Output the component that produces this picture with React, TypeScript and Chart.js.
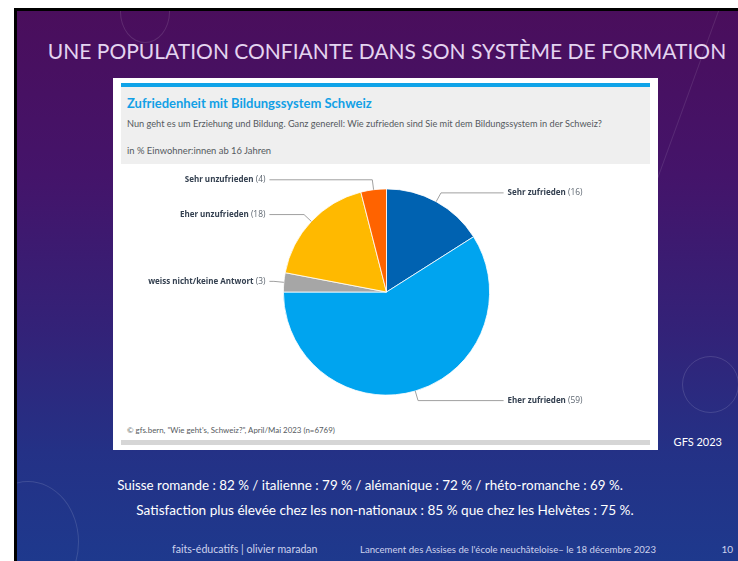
import React, { useEffect, useRef } from "react";
import { Chart, registerables } from "chart.js";

Chart.register(...registerables);

const categories = [
  "Sehr zufrieden",
  "Eher zufrieden",
  "weiss nicht/keine Antwort",
  "Eher unzufrieden",
  "Sehr unzufrieden",
];
const values = [16, 59, 3, 18, 4];
const colors = ["#0062b1", "#00a4ef", "#a6a6a6", "#ffb900", "#ff6300"];

const slideTitle = "UNE POPULATION CONFIANTE DANS SON SYSTÈME DE FORMATION";
const chartTitle = "Zufriedenheit mit Bildungssystem Schweiz";
const chartQuestion =
  "Nun geht es um Erziehung und Bildung. Ganz generell: Wie zufrieden sind Sie mit dem Bildungssystem in der Schweiz?";
const chartUnit = "in % Einwohner:innen ab 16 Jahren";
const chartSource = '© gfs.bern, "Wie geht\'s, Schweiz?", April/Mai 2023 (n=6769)';
const bodyLines = [
  "Suisse romande : 82 % / italienne : 79 % / alémanique : 72 % / rhéto-romanche : 69 %.",
  "Satisfaction plus élevée chez les non-nationaux : 85 % que chez les Helvètes : 75 %.",
];
const footerLeft = "faits-éducatifs | olivier maradan";
const footerMid = "Lancement des Assises de l'école neuchâteloise– le 18 décembre 2023";
const pageNumber = "10";
const sourceNote = "GFS 2023";

const LABEL_FONT = "'Open Sans', Lato, sans-serif";

const leaderPlugin = {
  id: "leaderLabels",
  afterDatasetsDraw(chart: any) {
    const ctx = chart.ctx;
    const meta = chart.getDatasetMeta(0);
    const data = chart.data.datasets[0].data;
    const labels = chart.data.labels;
    ctx.save();
    meta.data.forEach((arc: any, i: number) => {
      const { x, y, startAngle, endAngle, outerRadius } = arc.getProps(
        ["x", "y", "startAngle", "endAngle", "outerRadius"],
        true
      );
      const mid = (startAngle + endAngle) / 2;
      const R = outerRadius;
      const p0x = x + Math.cos(mid) * R;
      const p0y = y + Math.sin(mid) * R;
      const ex = x + Math.cos(mid) * (R + 10);
      const ey = y + Math.sin(mid) * (R + 10);
      const right = Math.cos(mid) >= 0;
      const lx = right ? x + R + 14 : x - R - 14;
      const tx = right ? x + R + 18 : x - R - 18;
      ctx.strokeStyle = "#a0a0a0";
      ctx.lineWidth = 1;
      ctx.beginPath();
      ctx.moveTo(p0x, p0y);
      ctx.lineTo(ex, ey);
      ctx.lineTo(lx, ey);
      ctx.stroke();

      const boldText = String(labels[i]);
      const normText = " (" + data[i] + ")";
      ctx.textBaseline = "middle";
      ctx.font = "bold 8px " + LABEL_FONT;
      const wb = ctx.measureText(boldText).width;
      ctx.font = "8.4px " + LABEL_FONT;
      const wn = ctx.measureText(normText).width;
      const startX = right ? tx : tx - wb - wn;
      ctx.textAlign = "left";
      ctx.font = "bold 8px " + LABEL_FONT;
      ctx.fillStyle = "#344050";
      ctx.fillText(boldText, startX, ey);
      ctx.font = "8.4px " + LABEL_FONT;
      ctx.fillStyle = "#5d6670";
      ctx.fillText(normText, startX + wb, ey);
    });
    ctx.restore();
  },
};

function PieChart() {
  const ref = useRef<HTMLCanvasElement | null>(null);
  useEffect(() => {
    if (!ref.current) return;
    const chart = new Chart(ref.current, {
      type: "pie",
      data: {
        labels: categories,
        datasets: [
          {
            data: values,
            backgroundColor: colors,
            borderColor: "#ffffff",
            borderWidth: 0.8,
          },
        ],
      },
      options: {
        animation: false,
        responsive: false,
        maintainAspectRatio: false,
        layout: { padding: { left: 170, right: 168, top: 23, bottom: 29 } },
        plugins: {
          legend: { display: false },
          tooltip: { enabled: false },
          title: { display: false },
        },
      },
      plugins: [leaderPlugin],
    });
    return () => chart.destroy();
  }, []);
  return (
    <canvas
      ref={ref}
      width={545}
      height={260}
      style={{ position: "absolute", left: 113, top: 165, width: 545, height: 260 }}
    />
  );
}

function Text(props: {
  x: number;
  cy: number;
  size: number;
  color: string;
  children: React.ReactNode;
  weight?: number | string;
  family?: string;
  align?: "left" | "center" | "right";
  width?: number;
}) {
  const lh = Math.round(props.size * 1.4);
  const style: React.CSSProperties = {
    position: "absolute",
    top: props.cy - lh / 2,
    height: lh,
    lineHeight: lh + "px",
    fontSize: props.size,
    color: props.color,
    fontWeight: props.weight ?? "normal",
    fontFamily: props.family ?? "Lato, sans-serif",
    whiteSpace: "nowrap",
  };
  if (props.align === "center") {
    style.left = props.x - (props.width ?? 700) / 2;
    style.width = props.width ?? 700;
    style.textAlign = "center";
  } else if (props.align === "right") {
    style.left = props.x - (props.width ?? 200);
    style.width = props.width ?? 200;
    style.textAlign = "right";
  } else {
    style.left = props.x;
  }
  return <div style={style}>{props.children}</div>;
}

export default function App() {
  return (
    <div
      style={{
        position: "absolute",
        left: 0,
        top: 0,
        width: 738,
        height: 561,
        background: "#ffffff",
        overflow: "hidden",
      }}
    >
      <div style={{ position: "absolute", left: 14, top: 8, width: 724, height: 553, background: "#000" }} />
      <div
        style={{
          position: "absolute",
          left: 17,
          top: 11,
          width: 721,
          height: 550,
          background:
            "linear-gradient(to bottom, #4a0e5c 0%, #44146a 30%, #332278 58%, #243186 80%, #1e398d 100%)",
          overflow: "hidden",
        }}
      >
        {/* decorative faint arcs */}
        <div style={{ position: "absolute", left: 103, top: -30, width: 48, height: 60, borderRadius: "50%", border: "1px solid rgba(255,255,255,0.12)" }} />
        <div style={{ position: "absolute", left: 665, top: 345, width: 55, height: 55, borderRadius: "50%", border: "1px solid rgba(255,255,255,0.13)" }} />
        <div style={{ position: "absolute", left: -40, top: 470, width: 100, height: 120, borderRadius: "50%", border: "1px solid rgba(255,255,255,0.13)" }} />
        <div style={{ position: "absolute", left: 640, top: -40, width: 140, height: 440, borderLeft: "1px solid rgba(255,255,255,0.1)", transform: "rotate(20deg)" }} />
      </div>

      <Text x={387} cy={50} size={21} color="#e4d4f0" align="center" width={720} family="Lato, sans-serif">
        {slideTitle}
      </Text>

      {/* card */}
      <div style={{ position: "absolute", left: 113, top: 78, width: 545, height: 372, background: "#ffffff" }} />
      <div style={{ position: "absolute", left: 121, top: 83, width: 529, height: 4, background: "#0fa3e8" }} />
      <div style={{ position: "absolute", left: 121, top: 87, width: 529, height: 77, background: "#efefef" }} />
      <Text x={127} cy={103} size={13} weight="bold" color="#12a0e6">
        {chartTitle}
      </Text>
      <Text x={127} cy={123} size={9.2} color="#555a60">
        {chartQuestion}
      </Text>
      <Text x={127} cy={150} size={9.4} color="#555a60">
        {chartUnit}
      </Text>
      <PieChart />
      <Text x={127} cy={430} size={7.9} color="#555a60">
        {chartSource}
      </Text>
      <div style={{ position: "absolute", left: 121, top: 440, width: 529, height: 5, background: "#d6d6d6" }} />

      <Text x={722} cy={441} size={11} color="#ffffff" align="right" width={80}>
        {sourceNote}
      </Text>
      <Text x={370} cy={485} size={13.4} color="#ffffff" align="center" width={720}>
        {bodyLines[0]}
      </Text>
      <Text x={385} cy={510} size={13.6} color="#ffffff" align="center" width={720}>
        {bodyLines[1]}
      </Text>
      <Text x={172} cy={549} size={10.6} color="#cdd2ec">
        {footerLeft}
      </Text>
      <Text x={360} cy={549} size={9.6} color="#cdd2ec">
        {footerMid}
      </Text>
      <Text x={733} cy={549} size={10} color="#cdd2ec" align="right" width={30}>
        {pageNumber}
      </Text>
    </div>
  );
}
